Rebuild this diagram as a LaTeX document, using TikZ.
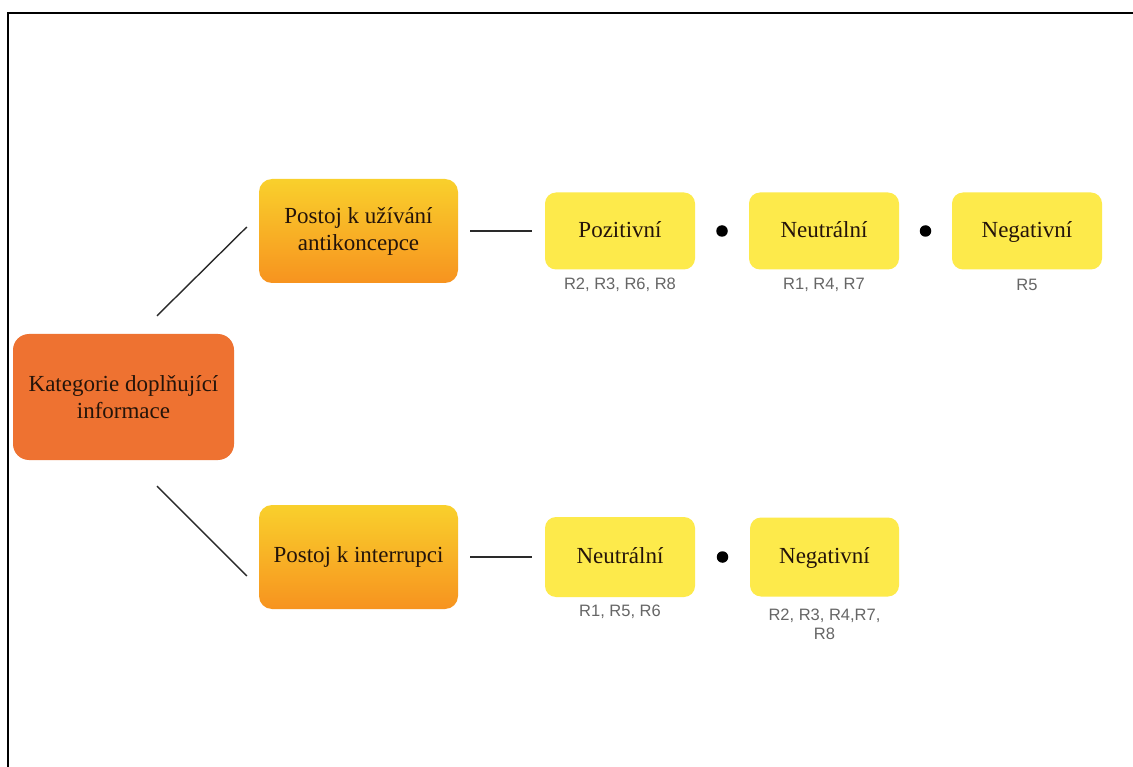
\documentclass[tikz,border=0pt]{standalone}
\usepackage{fontspec}
\setmainfont{Liberation Serif}
\newfontfamily\lblfont{Liberation Sans}
\usetikzlibrary{calc}
\definecolor{rootc}{HTML}{EE7231}
\definecolor{midtop}{HTML}{F9D02C}
\definecolor{midbot}{HTML}{F7931F}
\definecolor{leafc}{HTML}{FDEA4B}
\definecolor{txtc}{HTML}{24140A}
\definecolor{lblc}{HTML}{666666}
\definecolor{linec}{HTML}{2A2A2A}
\begin{document}
\begin{tikzpicture}[x=1pt,y=-1pt,
  boxtext/.style={text=txtc,font=\fontsize{23}{27}\selectfont,align=center,inner sep=0pt},
  rootbox/.style={boxtext,fill=rootc,rounded corners=16pt,minimum width=221pt,minimum height=126pt},
  midbox/.style={boxtext,top color=midtop,bottom color=midbot,rounded corners=13pt,minimum width=199pt,minimum height=104pt},
  leafbox/.style={boxtext,fill=leafc,rounded corners=11pt,minimum width=150pt,minimum height=77pt,text height=17pt,text depth=3.5pt},
  lbl/.style={text=lblc,font=\lblfont\fontsize{16.5}{19}\selectfont,align=center,inner sep=0pt},
  conn/.style={draw=linec,line width=1.4pt},
  dotn/.style={circle,fill=black,inner sep=0pt,minimum size=11.5pt}
]
\useasboundingbox (0,0) rectangle (1133,767);
\fill[white] (0,0) rectangle (1133,767);
% frame
\draw[line width=2pt,black] (8,767) -- (8,13) -- (1133,13);

% nodes
\node[rootbox] (root) at (123.5,397) {Kategorie doplňující\\informace};
\node[midbox] (A) at (358.5,231) {Postoj k užívání\\antikoncepce};
\node[midbox] (B) at (358.5,557) {Postoj k interrupci};
\node[leafbox] (P1) at (620,231) {Pozitivní};
\node[leafbox] (N1) at (824,231) {Neutrální};
\node[leafbox] (G1) at (1027,231) {Negativní};
\node[leafbox,minimum height=80pt] (N2) at (620,557) {Neutrální};
\node[leafbox,minimum height=79pt,minimum width=149pt] (G2) at (824.5,557) {Negativní};

% labels
\node[lbl] (lP1) at ($(P1.south)+(0,15)$) {R2, R3, R6, R8};
\node[lbl] (lN1) at ($(N1.south)+(0,15)$) {R1, R4, R7};
\node[lbl] (lG1) at ($(G1.south)+(0,15)$) {R5};
\node[lbl] (lN2) at ($(N2.south)+(0,15)$) {R1, R5, R6};
\node[lbl] (lG2) at ($(G2.south)+(0,27.5)$) {R2, R3, R4,R7,\\R8};

% connectors
\coordinate (r1) at ($(root.north)+(33.5,-18)$);
\coordinate (a1) at ($(A.west)+(-12,-4)$);
\coordinate (r2) at ($(root.south)+(33.5,26)$);
\coordinate (b1) at ($(B.west)+(-12,19)$);
\draw[conn] (r1) -- (a1);
\draw[conn] (r2) -- (b1);
\draw[conn,shorten <=12pt,shorten >=13pt] (A.east) -- (P1.west);
\draw[conn,shorten <=12pt,shorten >=13pt] (B.east) -- (N2.west);

% dots
\node[dotn] (d1) at ($(P1.east)!0.5!(N1.west)$) {};
\node[dotn] (d2) at ($(N1.east)!0.5!(G1.west)$) {};
\node[dotn] (d3) at ($(N2.east)!0.5!(G2.west)$) {};
\end{tikzpicture}
\end{document}
